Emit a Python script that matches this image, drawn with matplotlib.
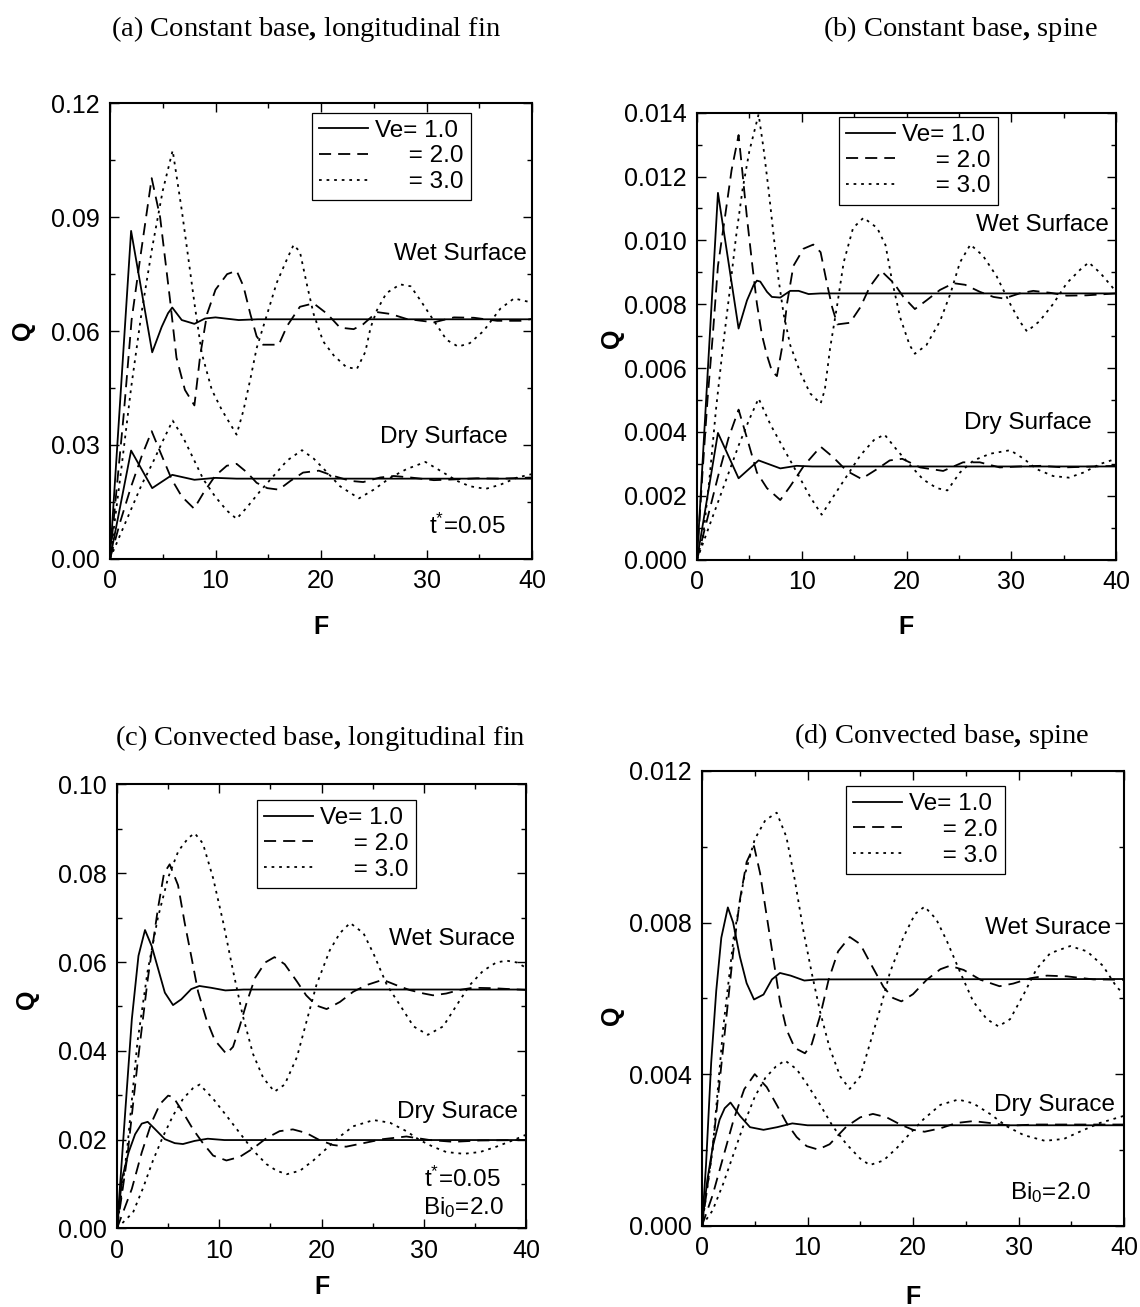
import matplotlib
matplotlib.use("Agg")
import matplotlib.pyplot as plt
from matplotlib.ticker import MultipleLocator, FormatStrFormatter
from matplotlib.lines import Line2D

plt.rcParams['font.family'] = ['Liberation Sans', 'DejaVu Sans']
plt.rcParams['mathtext.fontset'] = 'custom'
plt.rcParams['mathtext.rm'] = 'Liberation Sans'
plt.rcParams['mathtext.it'] = 'Liberation Sans:italic'
plt.rcParams['mathtext.bf'] = 'Liberation Serif:bold'
plt.rcParams['mathtext.default'] = 'regular'

# ---------------- data: Q versus F ----------------
ve_labels = ["Ve= 1.0", "     = 2.0", "     = 3.0"]

# (a) Constant base, longitudinal fin
a_wet_v1_F = [0, 2.0, 4.0, 4.9, 5.5, 5.9, 6.8, 8.0, 9.0, 10.0, 12.2, 14, 40]
a_wet_v1_Q = [0, 0.0864, 0.0544, 0.0611, 0.0647, 0.0662, 0.0629, 0.0619, 0.0633, 0.0636, 0.0629, 0.0631, 0.0631]
a_wet_v2_F = [0, 1.3, 2.05, 2.85, 3.95, 4.75, 5.7, 6.3, 7.1, 8.0, 8.55, 9.2, 10.0, 11.1, 12.0, 12.65, 13.3, 13.9, 14.5, 16.0,
              16.8, 18.0, 19.3, 20.6, 21.8, 23.1, 24.0, 25.3, 26.6, 28.1, 30.7, 32.6, 34.5, 36.7, 38.9, 40]
a_wet_v2_Q = [0, 0.038, 0.063, 0.079, 0.1003, 0.090, 0.068, 0.053, 0.0445, 0.0404, 0.0536, 0.0645, 0.0709, 0.0750, 0.0759,
              0.0718, 0.0645, 0.0586, 0.0564, 0.0564, 0.0614, 0.0664, 0.0673, 0.0645, 0.0609, 0.0605, 0.0618, 0.0650,
              0.0645, 0.0632, 0.0623, 0.0636, 0.0635, 0.0627, 0.0627, 0.0632]
a_wet_v3_F = [0, 1, 2, 3, 4, 5, 5.94, 6.8, 7.45, 8.05, 8.7, 9.65, 10.6, 12.0, 12.65, 13.3, 13.9, 14.9, 15.8, 16.8, 17.4,
              18.0, 18.7, 19.3, 20.2, 21.2, 22.4, 23.4, 24.2, 24.7, 25.3, 26.2, 27.5, 28.5, 29.4, 30.7, 31.9, 33.0, 34.1,
              35.4, 37.0, 38.3, 40]
a_wet_v3_Q = [0, 0.022, 0.045, 0.065, 0.082, 0.097, 0.1076, 0.0919, 0.0787, 0.0664, 0.0541, 0.0445, 0.0392, 0.0327,
              0.0391, 0.0473, 0.0555, 0.0645, 0.0727, 0.0791, 0.0827, 0.0809, 0.0718, 0.0645, 0.0573, 0.0536, 0.0505,
              0.0500, 0.0545, 0.0609, 0.0655, 0.0700, 0.0723, 0.0718, 0.0682, 0.0627, 0.0577, 0.0559, 0.0568, 0.0600,
              0.0659, 0.0686, 0.0675]
a_dry_v1_F = [0, 2.0, 4.0, 5.9, 8.0, 10.0, 12, 40]
a_dry_v1_Q = [0, 0.0285, 0.0186, 0.0221, 0.0208, 0.0213, 0.0211, 0.0211]
a_dry_v2_F = [0, 1, 2, 3, 3.95, 4.75, 5.85, 6.8, 7.97, 8.85, 9.96, 11.07, 12.0, 13.0, 13.9, 14.9, 16.0, 17.1, 18.3, 19.8,
              21.2, 22.8, 24.0, 25.6, 26.9, 28.5, 30.7, 32.6, 34.8, 37.0, 40]
a_dry_v2_Q = [0, 0.010, 0.019, 0.027, 0.0336, 0.0282, 0.0209, 0.0164, 0.0132, 0.0173, 0.0218, 0.0245, 0.0250, 0.0227,
              0.0200, 0.0186, 0.0182, 0.0205, 0.0227, 0.0232, 0.0218, 0.0205, 0.0202, 0.0214, 0.0218, 0.0214, 0.0207,
              0.0209, 0.0212, 0.0211, 0.0214]
a_dry_v3_F = [0, 1, 2, 3, 4, 5, 5.94, 6.96, 7.9, 8.85, 9.96, 11.07, 12.0, 13.0, 14.2, 15.5, 16.8, 18.2, 19.3, 20.6, 21.8,
              23.6, 25.0, 26.6, 28.1, 29.9, 31.3, 32.9, 34.1, 35.6, 37.0, 38.6, 40]
a_dry_v3_Q = [0, 0.0065, 0.013, 0.0195, 0.025, 0.031, 0.0364, 0.0318, 0.0264, 0.0209, 0.0164, 0.0127, 0.0105, 0.0136,
              0.0177, 0.0218, 0.0259, 0.0286, 0.0264, 0.0227, 0.0191, 0.0159, 0.0182, 0.0214, 0.0236, 0.0255, 0.0232,
              0.0205, 0.0191, 0.0184, 0.0195, 0.0214, 0.0223]

# (b) Constant base, spine
b_wet_v1_F = [0, 2.0, 3.97, 4.77, 5.4, 5.72, 6.04, 6.68, 7.15, 7.95, 8.9, 9.7, 10.65, 11.8, 40]
b_wet_v1_Q = [0, 0.01149, 0.00724, 0.00812, 0.0086, 0.00874, 0.00871, 0.00839, 0.00823, 0.00821, 0.00842, 0.00842,
              0.00832, 0.00834, 0.00834]
b_wet_v2_F = [0, 0.5, 1.0, 1.5, 2.0, 2.7, 3.3, 3.97, 4.29, 4.77, 5.25, 5.72, 6.2, 6.68, 7.15, 7.63, 8.1, 8.59, 9.2, 10.17,
              11.1, 11.8, 12.4, 12.9, 13.4, 14.6, 15.6, 16.5, 17.6, 18.8, 19.7, 20.8, 21.9, 23.2, 24.5, 25.6, 27.0, 28.3,
              29.3, 30.8, 32.1, 33.7, 35.3, 37.2, 40]
b_wet_v2_Q = [0, 0.0026, 0.0050, 0.0070, 0.0092, 0.0108, 0.0122, 0.0133, 0.01228, 0.01071, 0.00931, 0.00802, 0.00704,
              0.0064, 0.00591, 0.00575, 0.00661, 0.00801, 0.0092, 0.00974, 0.00987, 0.00963, 0.00866, 0.00791, 0.00737,
              0.00742, 0.00791, 0.00855, 0.00904, 0.00866, 0.00823, 0.00785, 0.00812, 0.00845, 0.00866, 0.00861,
              0.00839, 0.00823, 0.00818, 0.00834, 0.00842, 0.00836, 0.00827, 0.00828, 0.00834]
b_wet_v3_F = [0, 0.54, 1.18, 1.81, 2.45, 3.08, 3.72, 4.35, 5.0, 5.88, 6.36, 6.84, 7.31, 7.79, 8.27, 8.9, 9.86, 10.8, 11.8,
              12.2, 12.7, 13.4, 14.0, 14.9, 15.9, 17.2, 18.0, 18.6, 19.4, 20.3, 20.8, 21.9, 23.2, 24.2, 25.1, 26.1, 27.3,
              28.6, 29.9, 30.8, 31.5, 32.7, 34.0, 35.3, 36.6, 37.4, 38.5, 40]
b_wet_v3_Q = [0, 0.0006, 0.0025, 0.0047, 0.0066, 0.0083, 0.0101, 0.0116, 0.0128, 0.01395, 0.01286, 0.01157, 0.01017,
              0.00877, 0.00769, 0.00672, 0.00586, 0.00521, 0.00489, 0.00532, 0.00661, 0.00801, 0.00931, 0.01039,
              0.01071, 0.01039, 0.00985, 0.00877, 0.00758, 0.00672, 0.00645, 0.00672, 0.00747, 0.00834, 0.00931,
              0.00987, 0.00952, 0.00888, 0.00801, 0.00747, 0.00715, 0.00747, 0.00801, 0.00866, 0.00909, 0.00931,
              0.00898, 0.00840]
b_dry_v1_F = [0, 2.0, 3.97, 5.88, 7.95, 9.5, 11, 40]
b_dry_v1_Q = [0, 0.00397, 0.00255, 0.00311, 0.00286, 0.00294, 0.00292, 0.00292]
b_dry_v2_F = [0, 1, 2, 3, 3.97, 4.77, 5.72, 6.68, 7.95, 8.9, 10.2, 11.8, 13.0, 14.3, 15.7, 17.2, 18.4, 19.6, 21.3, 23.5,
              25.4, 27.0, 28.9, 30.8, 32.8, 35.0, 40]
b_dry_v2_Q = [0, 0.0013, 0.0026, 0.0038, 0.0047, 0.00381, 0.00273, 0.00224, 0.00187, 0.0023, 0.00294, 0.00354, 0.00321,
              0.00278, 0.00253, 0.00284, 0.00311, 0.00316, 0.00289, 0.00278, 0.00305, 0.00305, 0.00289, 0.00292,
              0.00294, 0.00289, 0.00294]
b_dry_v3_F = [0, 1, 2, 3, 4, 5, 5.88, 7.0, 8.27, 9.54, 10.8, 11.9, 13.0, 14.3, 15.6, 16.9, 17.9, 19.1, 20.4, 21.6, 22.9,
              23.9, 25.1, 26.4, 28.0, 29.9, 31.2, 32.4, 34.0, 35.5, 36.9, 38.5, 40]
b_dry_v3_Q = [0, 0.0009, 0.0018, 0.0027, 0.0036, 0.0044, 0.00505, 0.00424, 0.00348, 0.00273, 0.00197, 0.00141, 0.00197,
              0.00262, 0.00327, 0.00375, 0.00392, 0.00343, 0.00294, 0.00251, 0.00224, 0.00217, 0.00273, 0.00311,
              0.00332, 0.00343, 0.00316, 0.00284, 0.00262, 0.00257, 0.00273, 0.00300, 0.00316]

# (c) Convected base, longitudinal fin
c_wet_v1_F = [0, 0.4, 0.8, 1.45, 2.1, 2.74, 3.39, 4.03, 4.68, 5.48, 6.29, 7.26, 8.06, 9.19, 10.6, 12.4, 40]
c_wet_v1_Q = [0, 0.013, 0.0261, 0.0471, 0.0614, 0.0672, 0.0636, 0.0584, 0.0531, 0.0503, 0.0516, 0.0539, 0.0546, 0.0542,
              0.0536, 0.0538, 0.0538]
c_wet_v2_F = [0, 1, 2, 3, 4, 4.6, 5.15, 5.97, 6.62, 7.28, 7.93, 8.74, 9.56, 10.7, 11.35, 12.0, 12.7, 13.5, 14.5, 15.4,
              16.4, 17.6, 18.5, 19.5, 20.5, 21.8, 23.1, 24.4, 26.0, 27.3, 28.6, 30.0, 30.9, 32.2, 33.5, 34.8, 36.8, 40]
c_wet_v2_Q = [0, 0.016, 0.037, 0.056, 0.072, 0.080, 0.082, 0.0773, 0.0688, 0.0611, 0.0533, 0.0471, 0.0424, 0.0393,
              0.0409, 0.0455, 0.0510, 0.0564, 0.0599, 0.0611, 0.0595, 0.0556, 0.0525, 0.0502, 0.0494, 0.0510, 0.0533,
              0.0548, 0.0560, 0.0548, 0.0537, 0.0529, 0.0525, 0.0529, 0.0537, 0.0542, 0.0541, 0.0537]
c_wet_v3_F = [0, 1, 2, 3, 4, 5, 6, 7, 7.6, 8.4, 9.4, 10.4, 11.35, 12.3, 13.3, 14.3, 15.4, 16.4, 17.6, 18.5, 19.5, 20.8,
              21.8, 22.8, 24.1, 25.1, 26.4, 27.7, 29.0, 30.4, 31.9, 33.2, 34.5, 35.8, 37.1, 38.1, 39.1, 40]
c_wet_v3_Q = [0, 0.018, 0.042, 0.058, 0.070, 0.079, 0.085, 0.088, 0.089, 0.0867, 0.0789, 0.0688, 0.0580, 0.0479,
              0.0393, 0.0339, 0.0308, 0.0324, 0.0386, 0.0463, 0.0548, 0.0626, 0.0665, 0.0688, 0.0665, 0.0618, 0.0548,
              0.0502, 0.0455, 0.0436, 0.0455, 0.0502, 0.0548, 0.0580, 0.0599, 0.0603, 0.0599, 0.0587]
c_dry_v1_F = [0, 0.48, 1.13, 1.77, 2.42, 3.0, 3.7, 4.68, 5.65, 6.45, 7.58, 8.87, 10.5, 40]
c_dry_v1_Q = [0, 0.0111, 0.0171, 0.0212, 0.0236, 0.0240, 0.0224, 0.0201, 0.0192, 0.0190, 0.0197, 0.0202, 0.0199, 0.0199]
c_dry_v2_F = [0, 1.45, 2.42, 3.39, 4.2, 5.0, 5.5, 6.46, 7.44, 8.4, 9.4, 10.7, 12.0, 13.3, 14.6, 15.9, 17.2, 18.5, 19.8,
              21.1, 22.4, 24.1, 26.0, 28.3, 30.6, 32.9, 35.5, 40]
c_dry_v2_Q = [0, 0.0089, 0.0171, 0.0239, 0.028, 0.0299, 0.0296, 0.0261, 0.0223, 0.0192, 0.0164, 0.0153, 0.0161, 0.0180,
              0.0203, 0.0219, 0.0223, 0.0215, 0.0199, 0.0188, 0.0184, 0.0192, 0.0201, 0.0207, 0.0199, 0.0195, 0.0198,
              0.0199]
c_dry_v3_F = [0, 1.57, 2.55, 3.52, 4.5, 5.48, 6.46, 7.44, 8.09, 9.4, 10.7, 12.0, 13.3, 14.6, 15.6, 16.6, 17.9, 19.2,
              20.5, 21.8, 23.1, 25.1, 26.7, 28.3, 29.6, 30.9, 32.2, 33.9, 35.5, 37.1, 38.8, 40]
c_dry_v3_Q = [0, 0.0036, 0.0091, 0.0153, 0.0207, 0.0254, 0.0292, 0.0316, 0.0324, 0.0292, 0.0254, 0.0215, 0.0176,
              0.0145, 0.0130, 0.0122, 0.0130, 0.0153, 0.0180, 0.0207, 0.0230, 0.0244, 0.0238, 0.0219, 0.0199, 0.0184,
              0.0172, 0.0168, 0.0172, 0.0184, 0.0199, 0.0211]

# (d) Convected base, spine
d_wet_v1_F = [0, 0.38, 0.87, 1.35, 1.83, 2.45, 2.95, 3.59, 4.23, 4.93, 5.83, 6.63, 7.39, 8.4, 9.7, 11.0, 40]
d_wet_v1_Q = [0, 0.0016, 0.0043, 0.0062, 0.0076, 0.0084, 0.0080, 0.0071, 0.0064, 0.00597, 0.0061, 0.0065, 0.00667,
              0.0066, 0.00647, 0.0065, 0.00651]
d_wet_v2_F = [0, 1.03, 1.67, 2.31, 2.95, 3.59, 4.23, 4.93, 5.5, 6.13, 6.76, 7.39, 8.02, 8.8, 9.76, 10.4, 11.2, 12.0,
              12.9, 14.0, 15.0, 15.9, 17.2, 18.1, 18.9, 20.0, 21.3, 22.6, 23.5, 24.8, 26.4, 28.2, 29.5, 31.1, 32.7,
              34.6, 37.1, 40]
d_wet_v2_Q = [0, 0.0021, 0.0038, 0.0055, 0.0072, 0.0086, 0.0096, 0.01002, 0.00931, 0.00818, 0.00705, 0.00592, 0.00517,
              0.00469, 0.00455, 0.00479, 0.00554, 0.00649, 0.00724, 0.00762, 0.00743, 0.00696, 0.0063, 0.00601,
              0.00592, 0.00611, 0.00649, 0.00677, 0.00686, 0.00675, 0.00649, 0.00632, 0.00639, 0.00653, 0.0066,
              0.00658, 0.0065, 0.00649]
d_wet_v3_F = [0, 1, 2, 3, 4, 5, 6, 7.08, 8.0, 8.8, 9.6, 10.4, 11.2, 12.1, 13.1, 14.0, 15.0, 15.9, 16.9, 17.8, 19.1,
              20.2, 21.1, 22.2, 23.2, 24.5, 25.7, 27.0, 28.1, 29.2, 30.5, 31.7, 33.0, 34.9, 36.5, 38.0, 39.3, 40]
d_wet_v3_Q = [0, 0.002, 0.0052, 0.0076, 0.0092, 0.0102, 0.0107, 0.0109, 0.01026, 0.00912, 0.0078, 0.00667, 0.00564,
              0.00469, 0.00394, 0.00361, 0.00394, 0.00479, 0.00573, 0.00667, 0.00762, 0.00823, 0.00842, 0.00809,
              0.00752, 0.00667, 0.00592, 0.00545, 0.00526, 0.00545, 0.00611, 0.00677, 0.00719, 0.00738, 0.00724,
              0.00686, 0.0063, 0.00611]
d_dry_v1_F = [0, 0.5, 1.03, 1.67, 2.15, 2.7, 3.59, 4.55, 5.83, 7.12, 8.56, 10.0, 40]
d_dry_v1_Q = [0, 0.0012, 0.0021, 0.0028, 0.0031, 0.00325, 0.0029, 0.0026, 0.00253, 0.0026, 0.0027, 0.00265, 0.00265]
d_dry_v2_F = [0, 1, 2, 3, 4, 5.0, 6.13, 7.08, 8.02, 8.97, 9.92, 11.0, 12.1, 13.7, 15.0, 16.2, 17.5, 18.8, 20.0, 21.1,
              22.6, 24.1, 25.7, 27.3, 29.2, 31.5, 40]
d_dry_v2_Q = [0, 0.0008, 0.0018, 0.0028, 0.0036, 0.0040, 0.00366, 0.00319, 0.00271, 0.00234, 0.0021, 0.00201, 0.00215,
              0.00262, 0.00286, 0.00295, 0.00286, 0.00267, 0.00253, 0.00248, 0.00257, 0.00271, 0.00276, 0.00271,
              0.00264, 0.00267, 0.00267]
d_dry_v3_F = [0, 1, 2, 3, 4, 5, 6, 7, 7.87, 8.97, 9.92, 11.2, 12.4, 13.7, 15.0, 15.9, 17.2, 18.5, 19.7, 21.0, 22.6,
              24.3, 25.7, 27.3, 28.9, 30.5, 32.5, 34.3, 35.8, 37.7, 40]
d_dry_v3_Q = [0, 0.0004, 0.0011, 0.0019, 0.0027, 0.0034, 0.0039, 0.0042, 0.00436, 0.00413, 0.00375, 0.00319, 0.00262,
              0.00215, 0.00177, 0.0016, 0.00172, 0.00206, 0.00243, 0.00281, 0.00319, 0.00333, 0.00323, 0.00295,
              0.00262, 0.00239, 0.00224, 0.00229, 0.00248, 0.00271, 0.0029]

# panel captions; the comma is set in bold
panel_titles = [r"(a) Constant base$\mathbf{,}$ longitudinal fin", r"(b) Constant base$\mathbf{,}$ spine",
                r"(c) Convected base$\mathbf{,}$ longitudinal fin", r"(d) Convected base$\mathbf{,}$ spine"]

# ---------------- styling ----------------
W, H = 1140, 1307
fig = plt.figure(figsize=(W / 100, H / 100), dpi=100)

LW = 1.3
styles = [dict(ls='-'), dict(ls=(0, (6.7, 3.9))), dict(ls=(0, (1.5, 2.7)))]
TICK_FS = 18
TXT_FS = 17.5


def px_rect(x0, x1, y0, y1):
    return [x0 / W, 1 - y1 / H, (x1 - x0) / W, (y1 - y0) / H]


panels = [
    dict(rect=px_rect(110, 532, 103.4, 558.7), ymax=0.12, ymaj=0.03, ymin=0.015, fmt='%.2f',
         wet=[(a_wet_v1_F, a_wet_v1_Q), (a_wet_v2_F, a_wet_v2_Q), (a_wet_v3_F, a_wet_v3_Q)],
         dry=[(a_dry_v1_F, a_dry_v1_Q), (a_dry_v2_F, a_dry_v2_Q), (a_dry_v3_F, a_dry_v3_Q)],
         leg=(0.479, 0.98), qlab=(-0.206, 0.502), flab=-0.150,
         notes=[("Wet Surface", 39.5, 0.0803), ("Dry Surface", 37.7, 0.0322), (r"t$^{*}$=0.05", 37.5, 0.0086)],
         title=(306, 29)),
    dict(rect=px_rect(697, 1116, 112.7, 559.7), ymax=0.014, ymaj=0.002, ymin=0.001, fmt='%.3f',
         wet=[(b_wet_v1_F, b_wet_v1_Q), (b_wet_v2_F, b_wet_v2_Q), (b_wet_v3_F, b_wet_v3_Q)],
         dry=[(b_dry_v1_F, b_dry_v1_Q), (b_dry_v2_F, b_dry_v2_Q), (b_dry_v3_F, b_dry_v3_Q)],
         leg=(0.339, 0.991), qlab=(-0.203, 0.496), flab=-0.151,
         notes=[("Wet Surface", 39.3, 0.01047), ("Dry Surface", 37.7, 0.00429)],
         title=(960, 29)),
    dict(rect=px_rect(117, 526, 784.4, 1228.4), ymax=0.10, ymaj=0.02, ymin=0.01, fmt='%.2f',
         wet=[(c_wet_v1_F, c_wet_v1_Q), (c_wet_v2_F, c_wet_v2_Q), (c_wet_v3_F, c_wet_v3_Q)],
         dry=[(c_dry_v1_F, c_dry_v1_Q), (c_dry_v2_F, c_dry_v2_Q), (c_dry_v3_F, c_dry_v3_Q)],
         leg=(0.342, 0.965), qlab=(-0.220, 0.517), flab=-0.132,
         notes=[("Wet Surace", 38.9, 0.0651), ("Dry Surace", 39.2, 0.0263), (r"t$^{*}$=0.05", 37.5, 0.0110),
                (r"Bi$_{0}$=2.0", 37.8, 0.0048)],
         title=(320, 738)),
    dict(rect=px_rect(702, 1124, 771, 1225.7), ymax=0.012, ymaj=0.004, ymin=0.002, fmt='%.3f',
         wet=[(d_wet_v1_F, d_wet_v1_Q), (d_wet_v2_F, d_wet_v2_Q), (d_wet_v3_F, d_wet_v3_Q)],
         dry=[(d_dry_v1_F, d_dry_v1_Q), (d_dry_v2_F, d_dry_v2_Q), (d_dry_v3_F, d_dry_v3_Q)],
         leg=(0.341, 0.967), qlab=(-0.213, 0.463), flab=-0.157,
         notes=[("Wet Surace", 38.8, 0.00785), ("Dry Surace", 39.1, 0.00319), (r"Bi$_{0}$=2.0", 36.9, 0.00088)],
         title=(942, 736)),
]

for p, title in zip(panels, panel_titles):
    ax = fig.add_axes(p['rect'])
    for (F, Q), st in zip(p['wet'], styles):
        ax.plot(F, Q, color='black', lw=LW, **st)
    for (F, Q), st in zip(p['dry'], styles):
        ax.plot(F, Q, color='black', lw=LW, **st)

    ax.set_xlim(0, 40)
    ax.set_ylim(0, p['ymax'])
    ax.xaxis.set_major_locator(MultipleLocator(10))
    ax.xaxis.set_minor_locator(MultipleLocator(5))
    ax.yaxis.set_major_locator(MultipleLocator(p['ymaj']))
    ax.yaxis.set_minor_locator(MultipleLocator(p['ymin']))
    ax.yaxis.set_major_formatter(FormatStrFormatter(p['fmt']))
    ax.tick_params(which='both', direction='in', top=True, right=True, width=1.0, labelsize=TICK_FS, pad=7.5)
    ax.tick_params(which='major', length=6.5)
    ax.tick_params(which='minor', length=3.5)
    for s in ax.spines.values():
        s.set_linewidth(1.5)

    ax.set_ylabel("Q", fontsize=TICK_FS, fontweight='bold')
    ax.yaxis.set_label_coords(*p['qlab'])
    ax.yaxis.label.set_verticalalignment('center')
    ax.set_xlabel("F", fontsize=TICK_FS, fontweight='bold')
    ax.xaxis.set_label_coords(0.5, p['flab'])
    ax.xaxis.label.set_verticalalignment('center')

    handles = [Line2D([], [], color='black', lw=LW, **st) for st in styles]
    leg = ax.legend(handles, ve_labels, loc='upper left', bbox_to_anchor=p['leg'], borderaxespad=0,
                    fontsize=TXT_FS, frameon=True, fancybox=False, framealpha=1, edgecolor='black',
                    handlelength=2.0, handletextpad=0.3, labelspacing=0.15, borderpad=0.3)
    leg.get_frame().set_linewidth(0.9)

    for txt, fx, qy in p['notes']:
        ax.text(fx, qy, txt, ha='right', va='center', fontsize=TXT_FS)

    fig.text(p['title'][0] / W, 1 - p['title'][1] / H, title, ha='center', va='center',
             fontsize=20.5, family=['Liberation Serif', 'DejaVu Serif'])

fig.savefig("out.png", dpi=100)
